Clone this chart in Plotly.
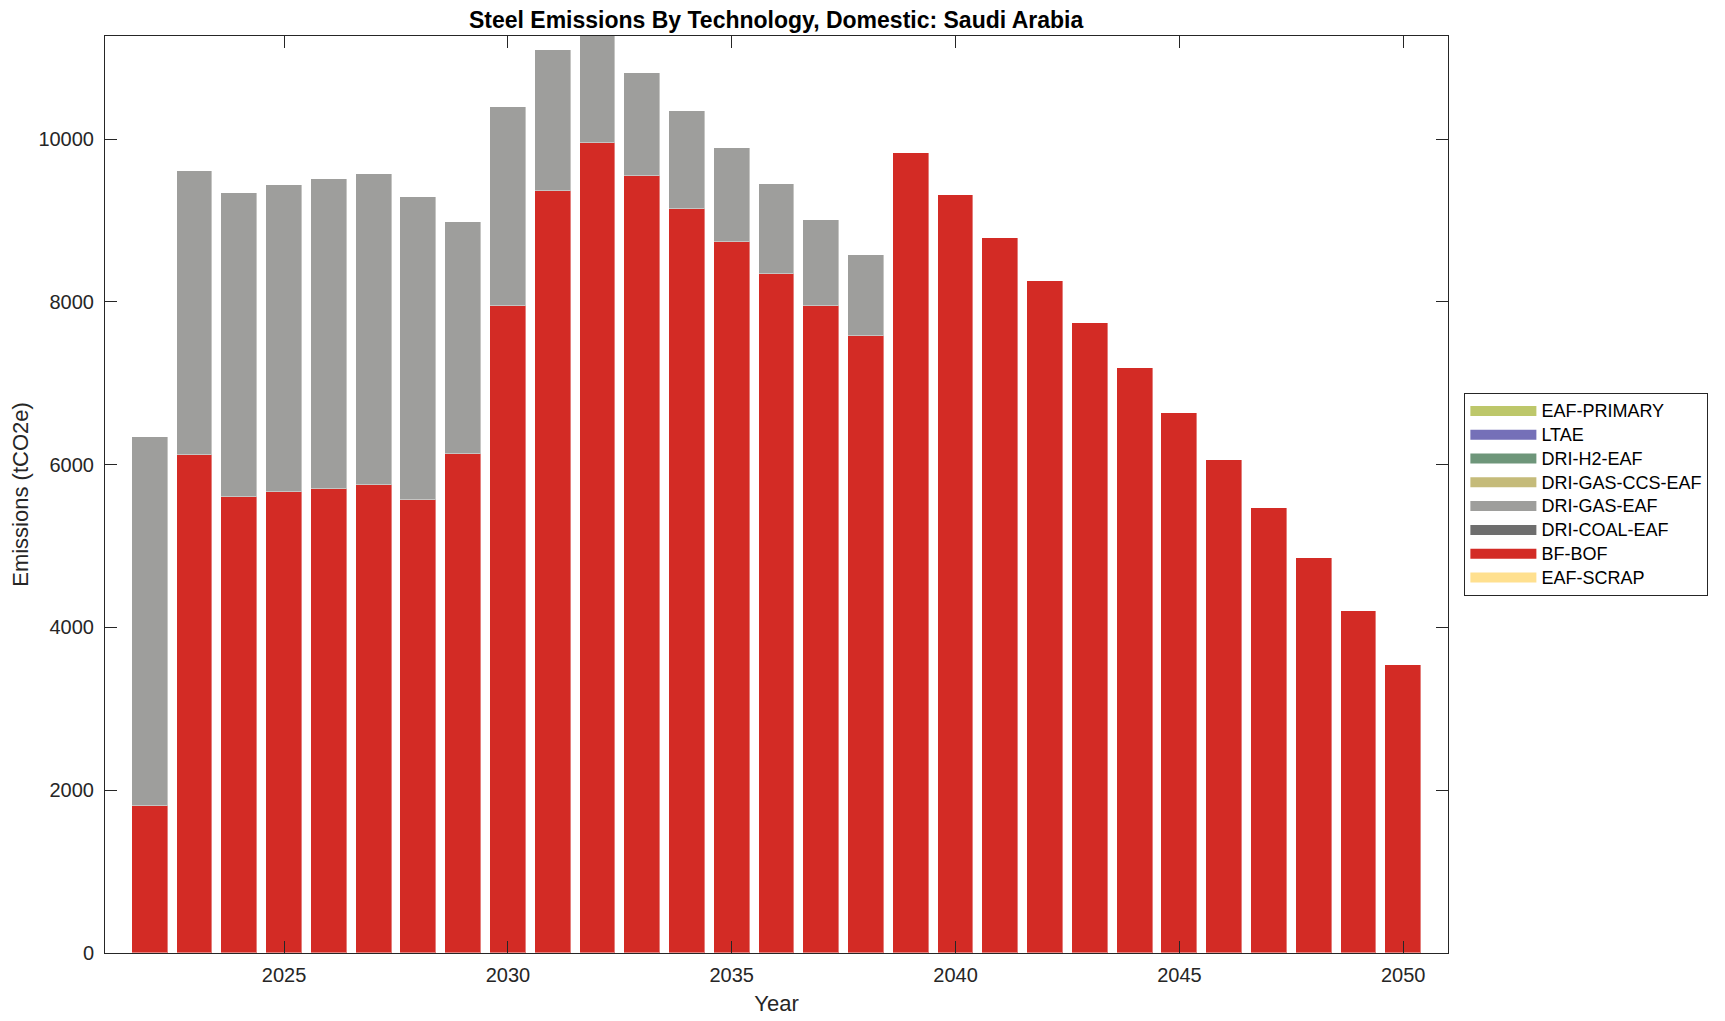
import plotly.graph_objects as go

years = list(range(2022, 2051))

bf_bof = [1812, 6115, 5602, 5660, 5705, 5746, 5570, 6135, 7943, 9361,
          9951, 9545, 9139, 8738, 8344, 7955, 7578, 9824, 9307, 8783,
          8262, 7738, 7192, 6635, 6061, 5470, 4851, 4203, 3535]

dri_gas_total = [6340, 9611, 9340, 9430, 9504, 9574, 9283, 8980, 10389, 11094,
                 11350, 10807, 10346, 9895, 9450, 9008, 8578]
dri_gas_eaf = [t - b for t, b in zip(dri_gas_total, bf_bof)] + [0] * (len(years) - len(dri_gas_total))

zeros = [0] * len(years)

# stacking order bottom -> top
series_names = ["EAF-SCRAP", "BF-BOF", "DRI-COAL-EAF", "DRI-GAS-EAF",
                "DRI-GAS-CCS-EAF", "DRI-H2-EAF", "LTAE", "EAF-PRIMARY"]
series_values = [zeros, bf_bof, zeros, dri_gas_eaf, zeros, zeros, zeros, zeros]
series_colors = ["#FFE08F", "#D32B25", "#6E6E6E", "#9E9E9C",
                 "#C5BB7A", "#6E967A", "#7570B8", "#BDC76A"]

y_ticks = [0, 2000, 4000, 6000, 8000, 10000]
x_ticks = [2025, 2030, 2035, 2040, 2045, 2050]

FONT = "Liberation Sans, Arial, Helvetica, sans-serif"
AX = "#262626"

fig = go.Figure()
for name, vals, col in zip(series_names, series_values, series_colors):
    fig.add_trace(go.Bar(
        x=years, y=vals, name=name, width=0.8,
        marker=dict(color=col, line=dict(color="rgba(255,255,255,0.4)", width=1)),
        showlegend=False, legendgroup=name,
    ))

# legend entries (top to bottom as in reference)
for name, col in reversed(list(zip(series_names, series_colors))):
    fig.add_trace(go.Scatter(
        x=[None], y=[None], mode="lines",
        name='<span style="font-size:18px">' + name + '</span>',
        legendgroup=name,
        line=dict(color=col, width=16), showlegend=True,
    ))

fig.update_layout(
    width=1725, height=1021,
    barmode="stack", bargap=0,
    plot_bgcolor="white", paper_bgcolor="white",
    margin=dict(l=96.5, r=285.3, t=28.3, b=76.3, pad=0),
    font=dict(family=FONT, size=20, color=AX),
    title=dict(text="<b>Steel Emissions By Technology, Domestic: Saudi Arabia</b>",
               x=768.1 / 1725, xanchor="center",
               y=1 - 12 / 1021, yanchor="middle",
               font=dict(family=FONT, size=23, color="black")),
    legend=dict(
        x=1.0122, xanchor="left", y=0.5, yanchor="middle",
        bgcolor="white", bordercolor=AX, borderwidth=1,
        font=dict(family=FONT, size=16, color="black"),
        itemwidth=66, traceorder="normal", tracegroupgap=0,
    ),
    xaxis=dict(
        range=[2021, 2051], tickvals=x_ticks, ticktext=[str(t) for t in x_ticks],
        ticks="inside", ticklen=12, tickwidth=1, tickcolor=AX,
        showline=True, linecolor=AX, linewidth=1, mirror="ticks",
        showgrid=False, zeroline=False, ticklabelstandoff=4,
        tickfont=dict(size=20, color=AX),
        title=dict(text="Year", font=dict(size=22, color=AX), standoff=10),
    ),
    yaxis=dict(
        range=[0, 11266], tickvals=y_ticks, ticktext=[str(t) for t in y_ticks],
        ticks="inside", ticklen=12, tickwidth=1, tickcolor=AX,
        showline=True, linecolor=AX, linewidth=1, mirror="ticks",
        showgrid=False, zeroline=False, ticklabelstandoff=6,
        tickfont=dict(size=20, color=AX),
        title=dict(text="Emissions (tCO2e)", font=dict(size=22, color=AX), standoff=4),
    ),
)

fig.write_html("out.html")
